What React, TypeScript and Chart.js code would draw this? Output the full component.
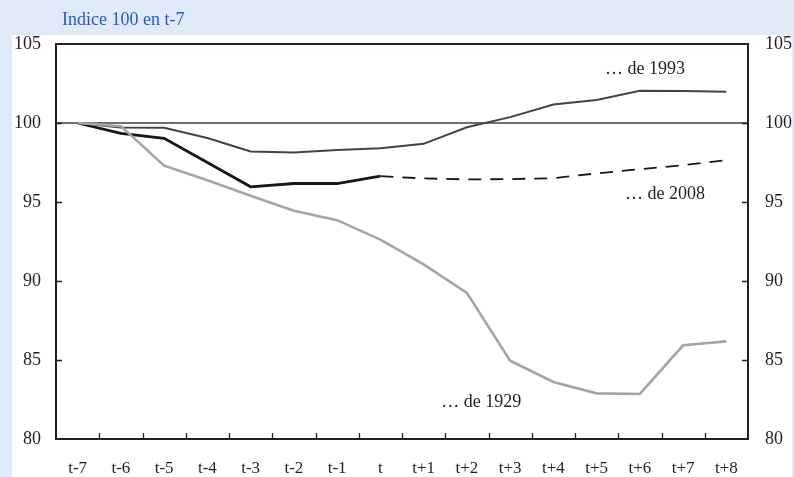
import React, { useEffect, useRef } from "react";
import { Chart, registerables } from "chart.js";

Chart.register(...registerables);

const categories = ["t-7", "t-6", "t-5", "t-4", "t-3", "t-2", "t-1", "t", "t+1", "t+2", "t+3", "t+4", "t+5", "t+6", "t+7", "t+8"];
const crisis1929 = [100, 99.8, 97.3, 96.38, 95.4, 94.45, 93.85, 92.62, 91.05, 89.25, 84.96, 83.61, 82.89, 82.85, 85.93, 86.18];
const crisis1993 = [100, 99.72, 99.7, 99.05, 98.2, 98.14, 98.29, 98.4, 98.68, 99.73, 100.37, 101.17, 101.46, 102.04, 102.02, 101.97];
const crisis2008 = [100, 99.35, 99.03, 97.5, 95.96, 96.17, 96.17, 96.64, null, null, null, null, null, null, null, null];
const crisis2008Forecast = [null, null, null, null, null, null, null, 96.64, 96.49, 96.43, 96.45, 96.51, 96.81, 97.08, 97.33, 97.65];
const yMin = 80;
const yMax = 105;
const yStep = 5;
const referenceLevel = 100;
const titleText = "Indice 100 en t-7";
const seriesLabels = [
  { text: "… de 1993", x: 13.12, y: 103.4 },
  { text: "… de 2008", x: 13.58, y: 95.48 },
  { text: "… de 1929", x: 9.33, y: 82.32 },
];

const FONT = "'Liberation Serif', 'Times New Roman', serif";
const INK = "#231f20";

const decorPlugin = {
  id: "decor",
  beforeDraw(chart: any) {
    const { ctx, width, height } = chart;
    ctx.save();
    ctx.fillStyle = "#dfe9f7";
    ctx.fillRect(0, 0, width, height);
    ctx.fillStyle = "#ffffff";
    ctx.fillRect(12, 35, 780, height - 35);
    ctx.fillStyle = "#2a58d0";
    ctx.font = `18px ${FONT}`;
    ctx.textBaseline = "middle";
    ctx.textAlign = "left";
    ctx.fillText(titleText, 62, 20);
    ctx.restore();
  },
  beforeDatasetsDraw(chart: any) {
    const { ctx, chartArea } = chart;
    const y = chart.scales.y.getPixelForValue(referenceLevel);
    ctx.save();
    ctx.strokeStyle = "#404040";
    ctx.lineWidth = 1.5;
    ctx.beginPath();
    ctx.moveTo(chartArea.left, y);
    ctx.lineTo(chartArea.right, y);
    ctx.stroke();
    ctx.restore();
  },
  afterDraw(chart: any) {
    const { ctx, chartArea } = chart;
    const xs = chart.scales.x;
    const ys = chart.scales.y;
    ctx.save();
    ctx.strokeStyle = INK;
    ctx.lineWidth = 2;
    ctx.strokeRect(chartArea.left, chartArea.top, chartArea.right - chartArea.left, chartArea.bottom - chartArea.top);
    ctx.lineWidth = 1.3;
    ctx.beginPath();
    for (let i = 0; i < categories.length - 1; i++) {
      const px = Math.round((xs.getPixelForValue(i) + xs.getPixelForValue(i + 1)) / 2) + 0.5;
      ctx.moveTo(px, chartArea.bottom);
      ctx.lineTo(px, chartArea.bottom - 6);
    }
    for (let v = yMin + yStep; v < yMax; v += yStep) {
      const py = Math.round(ys.getPixelForValue(v)) + 0.5;
      ctx.moveTo(chartArea.left, py);
      ctx.lineTo(chartArea.left + 6, py);
      ctx.moveTo(chartArea.right, py);
      ctx.lineTo(chartArea.right - 6, py);
    }
    ctx.stroke();
    ctx.fillStyle = INK;
    ctx.font = `18px ${FONT}`;
    ctx.textAlign = "center";
    ctx.textBaseline = "middle";
    for (const l of seriesLabels) {
      const px = xs.getPixelForValue(0) + (xs.getPixelForValue(1) - xs.getPixelForValue(0)) * l.x;
      ctx.fillText(l.text, px, ys.getPixelForValue(l.y));
    }
    ctx.restore();
  },
};

export default function App() {
  const ref = useRef<HTMLCanvasElement | null>(null);
  useEffect(() => {
    if (!ref.current) return;
    const chart = new Chart(ref.current, {
      type: "line",
      data: {
        labels: categories,
        datasets: [
          { label: "1929", data: crisis1929, borderColor: "#a0a6ab", borderWidth: 2.6, pointRadius: 0, tension: 0, yAxisID: "y" },
          { label: "1993", data: crisis1993, borderColor: "#3f4444", borderWidth: 2, pointRadius: 0, tension: 0, yAxisID: "y" },
          { label: "2008", data: crisis2008, borderColor: "#161616", borderWidth: 2.8, pointRadius: 0, tension: 0, yAxisID: "y" },
          { label: "2008 prévision", data: crisis2008Forecast, borderColor: "#161616", borderWidth: 1.8, borderDash: [13, 9], pointRadius: 0, tension: 0, yAxisID: "y" },
        ],
      },
      options: {
        responsive: false,
        animation: false,
        layout: { padding: { top: 44, left: 0, right: 0, bottom: 0 } },
        plugins: { legend: { display: false }, tooltip: { enabled: false }, title: { display: false } },
        scales: {
          x: {
            type: "category",
            offset: true,
            grid: { display: false, drawTicks: false },
            border: { display: false },
            ticks: { color: INK, font: { family: FONT, size: 17 }, padding: 19, maxRotation: 0, autoSkip: false },
            afterFit: (s: any) => { s.height = 38; },
          },
          y: {
            position: "left",
            min: yMin,
            max: yMax,
            grid: { display: false, drawTicks: false },
            border: { display: false },
            ticks: { stepSize: yStep, color: INK, font: { family: FONT, size: 18 }, padding: 15 },
            afterFit: (s: any) => { s.width = 56; },
          },
          y2: {
            position: "right",
            min: yMin,
            max: yMax,
            grid: { display: false, drawTicks: false },
            border: { display: false },
            ticks: { stepSize: yStep, color: INK, font: { family: FONT, size: 18 }, padding: 17 },
            afterFit: (s: any) => { s.width = 46; },
          },
        },
      },
      plugins: [decorPlugin],
    });
    return () => chart.destroy();
  }, []);
  return (
    <div style={{ position: "absolute", left: 0, top: 0, width: 794, height: 477 }}>
      <canvas ref={ref} width={794} height={477} style={{ display: "block" }} />
    </div>
  );
}
